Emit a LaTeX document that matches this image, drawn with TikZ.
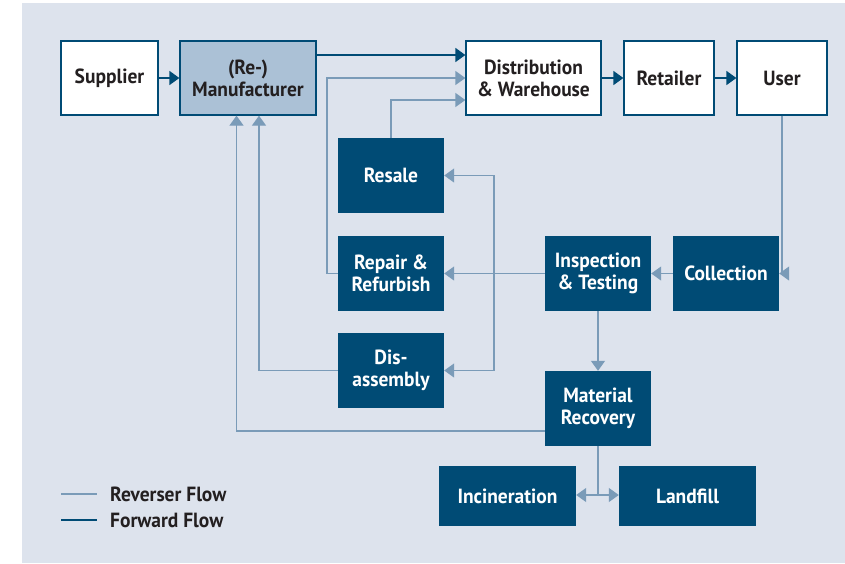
\documentclass[tikz,border=0pt]{standalone}
\usepackage{fontspec}
\setmainfont{PT Sans}[FakeStretch=0.95]
\usetikzlibrary{arrows.meta,calc}
\definecolor{bg}{HTML}{DDE3ED}
\definecolor{dk}{HTML}{004B75}
\definecolor{lt}{HTML}{7A9BB8}
\definecolor{mf}{HTML}{ABC1D6}
\definecolor{tx}{HTML}{231F20}
\begin{document}
\begin{tikzpicture}[x=1pt,y=-1pt,
  every node/.style={font=\bfseries\fontsize{20.5}{22}\selectfont, align=center, inner sep=0pt},
  wbox/.style={draw=dk, line width=1.3pt, fill=white, text=tx, minimum height=74pt},
  mbox/.style={draw=dk, line width=1.3pt, fill=mf, text=tx, minimum height=74pt},
  dbox/.style={fill=dk, text=white, minimum width=106pt, minimum height=75pt},
  fwd/.style={draw=dk, line width=1.8pt, -{Triangle[length=10pt,width=14pt]}},
  rev/.style={draw=lt, line width=1.3pt, -{Triangle[length=10pt,width=14pt]}},
  revl/.style={draw=lt, line width=1.3pt},
  fwdl/.style={draw=dk, line width=1.8pt},
  leg/.style={anchor=west, text=tx}
]
\useasboundingbox (0,0) rectangle (845,563);
\fill[bg] (22,3) rectangle (845,563);

% top row
\node[wbox, minimum width=97pt] (sup) at (109.5,78) {Supplier};
\node[mbox, minimum width=136pt] (man) at (248,78) {(Re-)\\Manufacturer};
\node[wbox, minimum width=135pt] (dist) at (533.5,78) {Distribution\\\& Warehouse};
\node[wbox, minimum width=90pt] (ret) at (669,78) {Retailer};
\node[wbox, minimum width=90pt] (user) at (782,78) {User};

% dark boxes
\node[dbox] (resale) at (391,175.5) {Resale};
\node[dbox] (repair) at (391,273.5) {Repair \&\\Refurbish};
\node[dbox] (dis) at (391,370.5) {Dis-\\assembly};
\node[dbox] (insp) at (598,273.5) {Inspection\\\& Testing};
\node[dbox] (coll) at (726,273.5) {Collection};
\node[dbox] (mr) at (598,408.5) {Material\\Recovery};
\node[dbox, minimum width=137pt, minimum height=60pt] (inc) at (507.5,496) {Incineration};
\node[dbox, minimum width=137pt, minimum height=60pt] (land) at (687.5,496) {Landfill};

% forward flow
\draw[fwd] (sup.east) -- (man.west);
\draw[fwd] (man.east |- 0,55) -- (dist.west |- 0,55);
\draw[fwd] (dist.east) -- (ret.west);
\draw[fwd] (ret.east) -- (user.west);

% reverse flow
\coordinate (rp) at (327,78);
\draw[rev] (repair.west) -| (rp) -- (dist.west);
\draw[rev] (resale.north) |- (dist.west |- 0,100);
\draw[rev] (user.south) |- (coll.east);
\draw[rev] (coll.west) -- (insp.east);
\draw[rev] (insp.west) -- (repair.east);
\coordinate (jx) at (494,273.5);
\draw[rev] (jx) |- (resale.east);
\draw[rev] (jx) |- (dis.east);
\draw[rev] (dis.west) -| ([xshift=11pt]man.south);
\draw[rev] (mr.west |- 0,431) -| ([xshift=-11.5pt]man.south);
\draw[rev] (insp.south) -- (mr.north);
\coordinate (jb) at (598,495);
\draw[revl] (mr.south) -- (jb);
\draw[rev] (jb) -- (inc.east |- jb);
\draw[rev] (jb) -- (land.west |- jb);

% legend
\coordinate (l1a) at (61,494);
\coordinate (l1b) at (97,494);
\coordinate (l2a) at (61,520);
\coordinate (l2b) at (97,520);
\draw[revl] (l1a) -- (l1b);
\draw[fwdl] (l2a) -- (l2b);
\node[leg] (t1) at (110,494) {Reverser Flow};
\node[leg] (t2) at (110,520) {Forward Flow};
\end{tikzpicture}
\end{document}
